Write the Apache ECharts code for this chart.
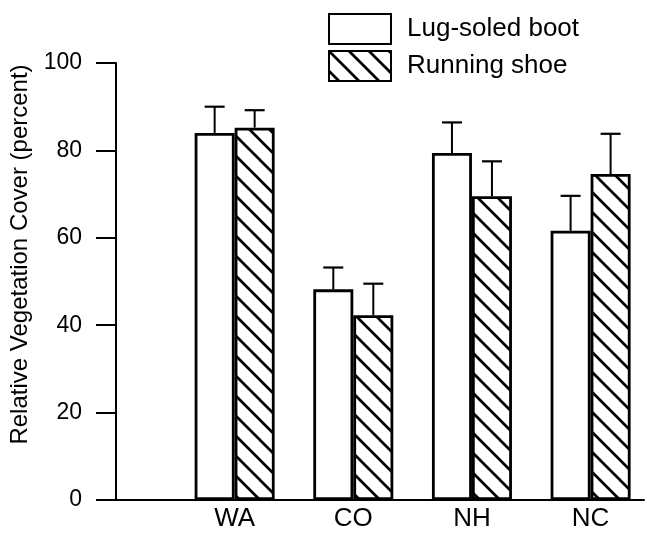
<!DOCTYPE html>
<html>
<head>
<meta charset="utf-8">
<script src="https://cdn.jsdelivr.net/npm/echarts@6/dist/echarts.min.js"></script>
<style>
html,body{margin:0;padding:0;background:#fff;}
#chart{width:647px;height:533px;}
</style>
</head>
<body>
<div id="chart"></div>
<script>
// ---- data ----
const categories = ['WA', 'CO', 'NH', 'NC'];
const lugSoled = [84, 48.2, 79.4, 61.6];
const lugSoledErr = [6, 5, 7, 8];
const runningShoe = [85.2, 42.3, 69.5, 74.6];
const runningShoeErr = [4, 7.2, 8, 9.2];
const yTicks = [0, 20, 40, 60, 80, 100];
const seriesNames = ['Lug-soled boot', 'Running shoe'];

const FONT = "'Liberation Sans', Arial, Helvetica, sans-serif";
const BAR_W = 40;

function hatchCanvas() {
  const s = 20;
  const c = document.createElement('canvas');
  c.width = s; c.height = s;
  const g = c.getContext('2d');
  g.fillStyle = '#fff';
  g.fillRect(0, 0, s, s);
  g.strokeStyle = '#000';
  g.lineWidth = 2.7;
  g.beginPath();
  g.moveTo(-3, -3); g.lineTo(s + 3, s + 3);
  g.moveTo(-3, s - 3); g.lineTo(3, s + 3);
  g.moveTo(s - 3, -3); g.lineTo(s + 3, 3);
  g.stroke();
  return c;
}

const barData = (vals) => categories.map((c, i) => [i + 1, vals[i]]);
const errData = (vals, errs) => categories.map((c, i) => [i + 1, vals[i], vals[i] + errs[i]]);

function errRenderer(shift) {
  return function (params, api) {
    const x = api.value(0);
    const p0 = api.coord([x, api.value(1)]);
    const p1 = api.coord([x, api.value(2)]);
    const cx = p0[0] + shift;
    const half = 10;
    return {
      type: 'group',
      children: [
        { type: 'line', shape: { x1: cx, y1: p0[1], x2: cx, y2: p1[1] }, style: { stroke: '#000', lineWidth: 2 } },
        { type: 'line', shape: { x1: cx - half, y1: p1[1], x2: cx + half, y2: p1[1] }, style: { stroke: '#000', lineWidth: 2.2 } }
      ]
    };
  };
}

const chart = echarts.init(document.getElementById('chart'), null, { renderer: 'canvas' });
chart.setOption({
  animation: false,
  backgroundColor: '#fff',
  grid: { left: 116, right: 1, top: 63, bottom: 33, containLabel: false },
  legend: {
    orient: 'vertical',
    left: 323,
    top: 8,
    itemWidth: 62,
    itemHeight: 30,
    itemGap: 5,
    icon: 'rect',
    data: seriesNames,
    textStyle: { fontFamily: FONT, fontSize: 26, lineHeight: 30, color: '#000', padding: [0, 0, 0, 11] }
  },
  xAxis: {
    type: 'value',
    min: 0,
    max: 4.45,
    interval: 1,
    splitLine: { show: false },
    axisTick: { show: false },
    axisLine: { show: true, lineStyle: { color: '#000', width: 2 } },
    axisLabel: {
      margin: 6,
      fontFamily: FONT, fontSize: 26, color: '#000',
      showMinLabel: true, showMaxLabel: true,
      formatter: function (v) {
        const i = Math.round(v);
        if (Math.abs(v - i) > 1e-6 || i < 1 || i > categories.length) return '';
        return categories[i - 1];
      }
    }
  },
  yAxis: {
    type: 'value',
    min: yTicks[0],
    max: yTicks[yTicks.length - 1],
    interval: 20,
    name: 'Relative Vegetation Cover (percent)',
    nameLocation: 'middle',
    nameGap: 80,
    nameTextStyle: { fontFamily: FONT, fontSize: 24, color: '#000', padding: [0, 0, 0, 54] },
    splitLine: { show: false },
    axisLine: { show: true, lineStyle: { color: '#000', width: 2 } },
    axisTick: { show: true, inside: false, length: 20, lineStyle: { color: '#000', width: 2 } },
    axisLabel: { margin: 34, fontFamily: FONT, fontSize: 23, color: '#000' }
  },
  series: [
    {
      name: seriesNames[0],
      type: 'bar',
      barWidth: BAR_W,
      barGap: '0%',
      data: barData(lugSoled),
      itemStyle: { color: '#fff', borderColor: '#000', borderWidth: 2.8 },
      emphasis: { disabled: true }
    },
    {
      name: seriesNames[1],
      type: 'bar',
      barWidth: BAR_W,
      barGap: '0%',
      data: barData(runningShoe),
      itemStyle: { color: { image: hatchCanvas(), repeat: 'repeat' }, borderColor: '#000', borderWidth: 2.8 },
      emphasis: { disabled: true }
    },
    {
      type: 'custom',
      renderItem: errRenderer(-BAR_W / 2),
      data: errData(lugSoled, lugSoledErr),
      z: 1,
      silent: true
    },
    {
      type: 'custom',
      renderItem: errRenderer(BAR_W / 2),
      data: errData(runningShoe, runningShoeErr),
      z: 1,
      silent: true
    }
  ]
});
</script>
</body>
</html>
